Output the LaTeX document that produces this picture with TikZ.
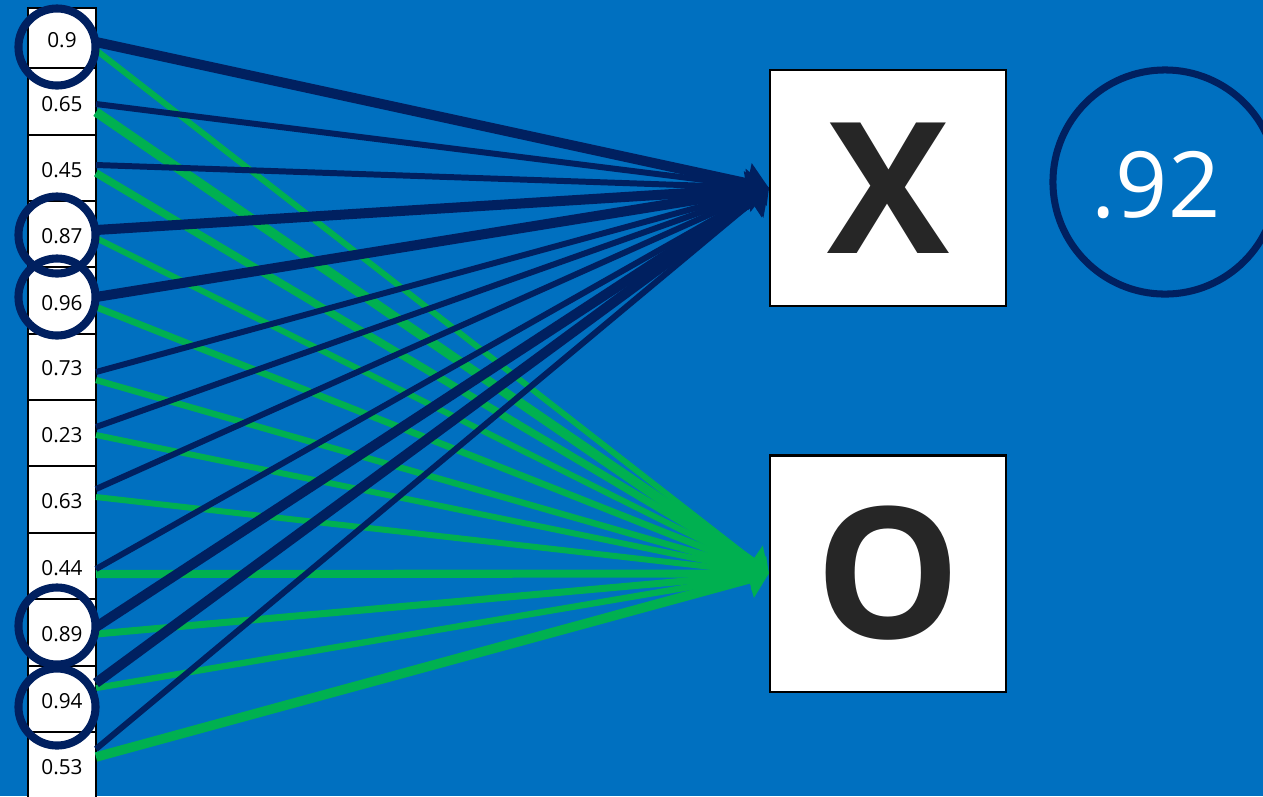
\documentclass[tikz,border=0pt]{standalone}
\usepackage{fontspec}
\setmainfont{Open Sans}
\usepackage{tikz}
\usepackage{xcolor}
\usetikzlibrary{arrows.meta}
\definecolor{slideblue}{RGB}{0,112,192}
\definecolor{navy}{RGB}{0,32,96}
\definecolor{wgreen}{RGB}{0,176,80}
\definecolor{glyphgray}{RGB}{38,38,38}

\begin{document}
\begin{tikzpicture}[x=0.01cm, y=-0.01cm, >={Triangle[length=0pt 2.2, width=0pt 4]},
    cell/.style={font=\fontsize{5.9}{7}\selectfont, inner sep=0pt},
    ring/.style={draw=navy, line width=2.3pt, circle, minimum size=0.77cm, inner sep=0pt},
    classbox/.style={draw=black, fill=white, line width=0.6pt, minimum size=2.36cm, inner sep=0pt,
        text=glyphgray, font=\fontsize{52}{52}\selectfont\bfseries}]
    \useasboundingbox (0,0) rectangle (1263,796);
    \clip (0,0) rectangle (1263,796);
    \fill[slideblue] (0,0) rectangle (1263,796);

    % Input column
    \draw[fill=white, line width=0.4pt] (28,8) rectangle (96,810);
    \foreach \y in {68,135,201,267,334,400,466,533,599,666,732} {
        \draw[line width=0.4pt] (28,\y) -- (96,\y);
    }

    % Output classes
    \node[classbox] (X) at (888,188) {X};
    \node[classbox] (O) at (888,573.5) {O};

    % Weighted connections
    \foreach \i/\v/\ty/\by/\bw/\gy/\gw in {1/0.9/40/42/2.85/50/1.7, 2/0.65/104/104/1.7/112/2.7,
        3/0.45/170/165/1.7/173/2.15, 4/0.87/236/230/2.85/238/1.7, 5/0.96/303/297/2.85/307/1.9,
        6/0.73/368/372/1.7/380/1.8, 7/0.23/435/427/1.7/435/1.7, 8/0.63/501/489/1.7/497/1.7,
        9/0.44/568/569/1.7/574/2.3, 10/0.89/634/627/2.85/634/2.0, 11/0.94/701/683/2.85/688/1.8,
        12/0.53/767/749/1.7/757/2.7} {
        \node[cell] (c\i) at (62,\ty) {\v};
        \coordinate (b\i) at (96,\by);
        \coordinate (g\i) at (96,\gy);
        \draw[->, wgreen, line width=\gw pt] (g\i) -- (O.west);
        \draw[->, navy, line width=\bw pt] (b\i) -- (X.west);
    }

    % Highlighted inputs
    \foreach \i/\ry in {1/47, 4/235, 5/297, 10/626, 11/707} {
        \node[ring] (r\i) at (57,\ry) {};
    }

    % Score
    \node[draw=navy, line width=2pt, circle, minimum size=2.24cm, inner sep=0pt] (score) at (1165,182) {};
    \node[text=white, font=\fontsize{26}{26}\selectfont] (scorelabel) at (1156,185) {.92};
\end{tikzpicture}
\end{document}
